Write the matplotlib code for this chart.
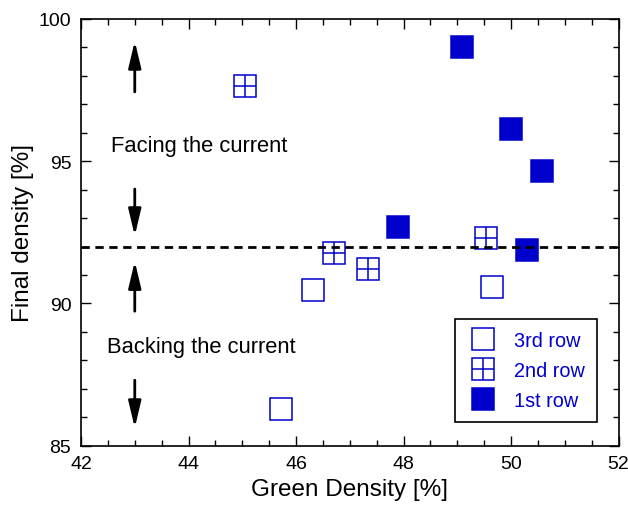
import matplotlib
matplotlib.use("Agg")
import matplotlib.pyplot as plt
from matplotlib.ticker import MultipleLocator

plt.rcParams['font.family'] = ['Liberation Sans', 'DejaVu Sans']

# 3rd row (open squares)
x3 = [45.72, 46.31, 49.64]
y3 = [86.28, 90.49, 90.59]
# 2nd row (crossed squares)
x2 = [45.05, 46.71, 47.33, 49.53]
y2 = [97.63, 91.78, 91.21, 92.29]
# 1st row (filled squares)
x1 = [49.08, 50.00, 50.57, 47.89, 50.30]
y1 = [99.00, 96.13, 94.65, 92.70, 91.89]

threshold = 92.0
blue = '#0000CC'
ms = 15.5

fig = plt.figure(figsize=(6.28, 5.10), dpi=100)
ax = fig.add_axes([0.129, 0.1241, 0.856, 0.8367])

h3, = ax.plot(x3, y3, 's', ms=ms, mfc='white', mec=blue, mew=1.1, ls='none')
h2a, = ax.plot(x2, y2, 's', ms=ms, mfc='white', mec=blue, mew=1.1, ls='none')
h2b, = ax.plot(x2, y2, '+', ms=ms, mec=blue, mew=1.1, ls='none')
h1, = ax.plot(x1, y1, 's', ms=ms, mfc=blue, mec=blue, mew=1.1, ls='none')

ax.axhline(threshold, color='black', ls=(0, (3, 2)), lw=2)

# arrows
arrow = dict(arrowstyle='-|>,head_length=1.6,head_width=0.38', color='black', lw=2)
ax.annotate('', xy=(43.0, 99.32), xytext=(43.0, 97.34), arrowprops=arrow)
ax.annotate('', xy=(43.0, 92.28), xytext=(43.0, 94.12), arrowprops=arrow)
ax.annotate('', xy=(43.0, 91.58), xytext=(43.0, 89.63), arrowprops=arrow)
ax.annotate('', xy=(43.0, 85.53), xytext=(43.0, 87.40), arrowprops=arrow)

ax.text(42.55, 95.56, 'Facing the current', fontsize=15.8, va='center', ha='left')
ax.text(42.48, 88.49, 'Backing the current', fontsize=15.8, va='center', ha='left')

ax.set_xlim(42, 52)
ax.set_ylim(85, 100)
ax.xaxis.set_major_locator(MultipleLocator(2))
ax.xaxis.set_minor_locator(MultipleLocator(0.5))
ax.yaxis.set_major_locator(MultipleLocator(5))
ax.yaxis.set_minor_locator(MultipleLocator(1))
ax.tick_params(which='both', direction='in', top=True, right=True, labelsize=14)
ax.tick_params(which='major', length=7, width=1, pad=7)
ax.tick_params(which='minor', length=4, width=1)
for s in ax.spines.values():
    s.set_linewidth(1.2)

ax.set_xlabel('Green Density [%]', fontsize=17.5, labelpad=4)
ax.set_ylabel('Final density [%]', fontsize=17.5, labelpad=3)

leg = ax.legend([h3, (h2a, h2b), h1], ['3rd row', '2nd row', '1st row'],
                loc='lower right', bbox_to_anchor=(0.96, 0.0555),
                fontsize=14.3, labelcolor=blue, fancybox=False,
                edgecolor='black', framealpha=1, borderpad=0.6,
                handlelength=1.6, handletextpad=0.8, labelspacing=0.55,
                borderaxespad=0)
leg.get_frame().set_linewidth(1.2)

fig.savefig('out.png', dpi=100)
